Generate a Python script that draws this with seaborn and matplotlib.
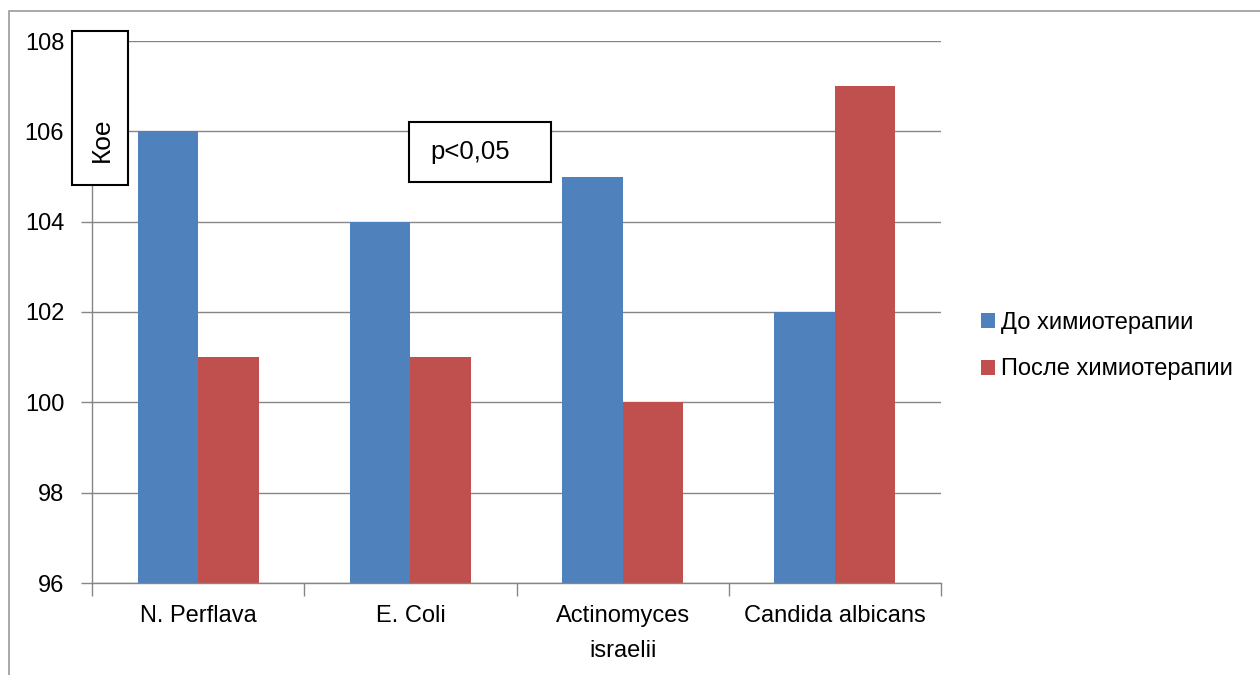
import matplotlib
matplotlib.use("Agg")
import matplotlib.pyplot as plt
from matplotlib.patches import Rectangle
import seaborn as sns
import pandas as pd

categories = ["N. Perflava", "E. Coli", "Actinomyces\nisraelii", "Candida albicans"]
before = [106, 104, 105, 102]
after = [101, 101, 100, 107]
series_names = ["До химиотерапии", "После химиотерапии"]
colors = ["#4F81BD", "#C0504D"]
yticks = [96, 98, 100, 102, 104, 106, 108]

df = pd.DataFrame({
    "cat": categories * 2,
    "val": before + after,
    "series": [series_names[0]] * 4 + [series_names[1]] * 4,
})

sns.set_theme(style="white")
plt.rcParams["font.family"] = ["Liberation Sans", "DejaVu Sans"]
plt.rcParams["text.color"] = "black"

W, H = 1260, 675
FS = 17
fig = plt.figure(figsize=(12.6, 6.75), dpi=100)
ax = fig.add_axes([92 / W, 1 - 583 / H, 849 / W, 542 / H])

sns.barplot(data=df, x="cat", y="val", hue="series", order=categories,
            hue_order=series_names, palette=colors, width=0.57,
            saturation=1, ax=ax, edgecolor="none", linewidth=0)

ax.set_ylim(96, 108)
ax.set_xlim(-0.5, 3.5)
ax.set_yticks(yticks)
ax.set_yticklabels([str(v) for v in yticks], fontsize=FS, color="black")
ax.set_xlabel("")
ax.set_ylabel("")
ax.set_xticklabels(categories, fontsize=FS, color="black", linespacing=1.75)
ax.tick_params(axis="x", which="major", length=0, pad=16, bottom=True)
ax.set_xticks([-0.5, 0.5, 1.5, 2.5, 3.5], minor=True)
ax.tick_params(axis="x", which="minor", length=9, color="#868686", width=1,
               direction="out", bottom=True)
ax.tick_params(axis="y", which="major", length=8, color="#868686", width=1,
               pad=12, direction="out", left=True)
ax.yaxis.grid(True, color="#868686", linewidth=1)
ax.set_axisbelow(True)
for s in ["top", "right"]:
    ax.spines[s].set_visible(False)
for s in ["left", "bottom"]:
    ax.spines[s].set_color("#868686")
    ax.spines[s].set_linewidth(1)

handles, labels = ax.get_legend_handles_labels()
if ax.get_legend():
    ax.get_legend().remove()
leg = fig.legend(handles, labels, loc="center left",
                 bbox_to_anchor=(960 / W, 1 - 346 / H), frameon=False,
                 fontsize=FS, handlelength=0.6, handleheight=0.6,
                 handletextpad=0.25, labelspacing=1.05, labelcolor="black")

# outer chart frame
fig.patches.append(Rectangle((9 / W, -0.1), 1.2, 1 - 11 / H + 0.1,
                             transform=fig.transFigure, fill=False,
                             edgecolor="#9a9a9a", linewidth=1.2))

# annotation boxes
fig.patches.append(Rectangle((72 / W, 1 - 185 / H), 56 / W, 154 / H,
                             transform=fig.transFigure, facecolor="white",
                             edgecolor="black", linewidth=1.5, zorder=5))
fig.text(102 / W, 1 - 140 / H, "Кое", rotation=90, fontsize=19,
         ha="center", va="center", zorder=6, color="black")
fig.patches.append(Rectangle((409 / W, 1 - 182 / H), 142 / W, 60 / H,
                             transform=fig.transFigure, facecolor="white",
                             edgecolor="black", linewidth=1.5, zorder=5))
fig.text(470 / W, 1 - 152 / H, "p<0,05", fontsize=18.5,
         ha="center", va="center", zorder=6, color="black")

fig.savefig("out.png", dpi=100)
